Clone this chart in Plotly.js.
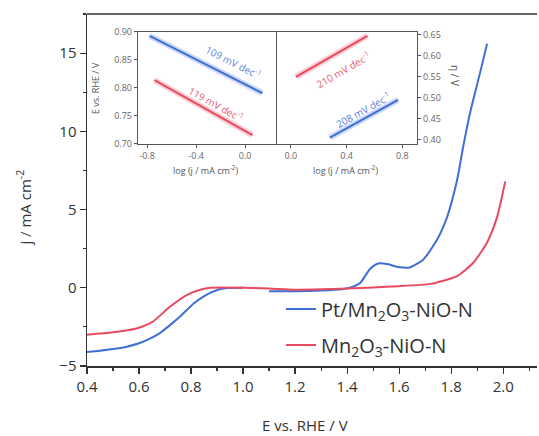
<!DOCTYPE html>
<html>
<head>
<meta charset="utf-8">
<script src="https://cdn.plot.ly/plotly-3.0.1.min.js"></script>
<style>html,body{margin:0;padding:0;background:#fff;}#chart{width:539px;height:436px;}</style>
</head>
<body>
<div id="chart"></div>
<script>
// ---- Main LSV data ----
const ptE = [0.40,0.45,0.50,0.55,0.60,0.64,0.68,0.72,0.76,0.785,0.81,0.846,0.88,0.91,0.94,1.00,null,1.10,1.20,1.30,1.38,1.42,1.45,1.488,1.519,1.558,1.59,1.64,1.692,1.746,1.785,1.823,1.846,1.873,1.912,1.938];
const ptJ = [-4.10,-4.02,-3.92,-3.78,-3.55,-3.27,-2.90,-2.37,-1.80,-1.40,-1.00,-0.58,-0.28,-0.10,-0.02,0.00,null,-0.22,-0.22,-0.18,-0.10,0.05,0.30,1.20,1.55,1.50,1.35,1.30,1.79,3.08,4.55,6.90,9.00,11.20,13.80,15.60];
const mnE = [0.40,0.50,0.59,0.65,0.72,0.785,0.835,0.875,1.00,1.10,1.20,1.30,1.40,1.50,1.60,1.72,1.77,1.823,1.885,1.938,1.977,2.008];
const mnJ = [-3.00,-2.85,-2.60,-2.20,-1.20,-0.45,-0.13,0.00,0.00,-0.05,-0.12,-0.10,-0.04,0.02,0.10,0.25,0.45,0.75,1.60,2.90,4.55,6.80];

// ---- Inset Tafel data (left: E vs log j, right: eta vs log j) ----
const tafLeftPtX = [-0.78, 0.14];
const tafLeftPtY = [0.893, 0.791];
const tafLeftMnX = [-0.74, 0.06];
const tafLeftMnY = [0.814, 0.716];
const tafRightMnX = [0.036, 0.55];
const tafRightMnY = [0.550, 0.648];
const tafRightPtX = [0.28, 0.77];
const tafRightPtY = [0.405, 0.495];

const xTicks = [0.4,0.6,0.8,1.0,1.2,1.4,1.6,1.8,2.0];
const yTicks = [-5,0,5,10,15];
const inLeftXTicks = [-0.8,-0.4,0.0];
const inLeftYTicks = [0.70,0.75,0.80,0.85,0.90];
const inRightXTicks = [0.0,0.4,0.8];
const inRightYTicks = [0.40,0.45,0.50,0.55,0.60,0.65];

const BLUE = '#3d6fd4', RED = '#e84a5f';
const BLUE_L = 'rgba(90,130,230,0.30)', RED_L = 'rgba(240,100,120,0.30)';
const FONT = 'Open Sans, sans-serif';
const TXT = '#333';

const traces = [
  {x: ptE, y: ptJ, mode:'lines', name:'Pt/Mn<sub>2</sub>O<sub>3</sub>-NiO-N', line:{color:BLUE, width:2, shape:'spline', smoothing:0.6}, connectgaps:false, legendgroup:'a'},
  {x: mnE, y: mnJ, mode:'lines', name:'Mn<sub>2</sub>O<sub>3</sub>-NiO-N', line:{color:RED, width:2, shape:'spline', smoothing:0.6}, legendgroup:'b'},
  // inset halos
  {x: tafLeftPtX, y: tafLeftPtY, xaxis:'x2', yaxis:'y2', mode:'lines', line:{color:BLUE_L, width:6}, showlegend:false},
  {x: tafLeftMnX, y: tafLeftMnY, xaxis:'x2', yaxis:'y2', mode:'lines', line:{color:RED_L, width:6}, showlegend:false},
  {x: tafRightMnX, y: tafRightMnY, xaxis:'x3', yaxis:'y3', mode:'lines', line:{color:RED_L, width:6}, showlegend:false},
  {x: tafRightPtX, y: tafRightPtY, xaxis:'x3', yaxis:'y3', mode:'lines', line:{color:BLUE_L, width:6}, showlegend:false},
  // inset lines
  {x: tafLeftPtX, y: tafLeftPtY, xaxis:'x2', yaxis:'y2', mode:'lines', line:{color:BLUE, width:2}, showlegend:false},
  {x: tafLeftMnX, y: tafLeftMnY, xaxis:'x2', yaxis:'y2', mode:'lines', line:{color:RED, width:2}, showlegend:false},
  {x: tafRightMnX, y: tafRightMnY, xaxis:'x3', yaxis:'y3', mode:'lines', line:{color:RED, width:2}, showlegend:false},
  {x: tafRightPtX, y: tafRightPtY, xaxis:'x3', yaxis:'y3', mode:'lines', line:{color:BLUE, width:2}, showlegend:false}
];

const inAx = {showline:true, mirror:true, linecolor:'#555', linewidth:1.2, ticks:'outside', ticklen:3, tickcolor:'#555',
  tickfont:{family:FONT, size:9, color:'#666'}, showgrid:false, zeroline:false};

const layout = {
  width:539, height:436,
  margin:{l:87, r:2, t:14, b:70},
  paper_bgcolor:'#fff', plot_bgcolor:'#fff',
  font:{family:FONT, color:TXT},
  xaxis:{range:[0.4,2.13], tickvals:xTicks, ticktext:xTicks.map(v=>v.toFixed(1)), showline:true, linecolor:TXT, linewidth:1.5,
    ticks:'outside', ticklen:6, tickwidth:1.2, tickcolor:TXT, tickfont:{family:FONT, size:15, color:TXT},
    minor:{dtick:0.1, tick0:0.4, ticks:'outside', ticklen:3, tickcolor:TXT}, showgrid:false, zeroline:false},
  yaxis:{range:[-5,17.5], tickvals:yTicks, showline:true, linecolor:TXT, linewidth:1.5,
    ticks:'outside', ticklen:6, tickwidth:1.2, tickcolor:TXT, tickfont:{family:FONT, size:15, color:TXT},
    minor:{dtick:2.5, tick0:-5, ticks:'outside', ticklen:3, tickcolor:TXT}, showgrid:false, zeroline:false},
  xaxis2:Object.assign({}, inAx, {domain:[0.1133,0.4222], anchor:'y2', range:[-0.875,0.26], tickvals:inLeftXTicks, ticktext:inLeftXTicks.map(v=>v.toFixed(1))}),
  yaxis2:Object.assign({}, inAx, {domain:[0.6307,0.9489], anchor:'x2', range:[0.70,0.90], tickvals:inLeftYTicks, ticktext:inLeftYTicks.map(v=>v.toFixed(2))}),
  xaxis3:Object.assign({}, inAx, {domain:[0.4222,0.7333], anchor:'y3', range:[-0.1,0.906], tickvals:inRightXTicks, ticktext:inRightXTicks.map(v=>v.toFixed(1))}),
  yaxis3:Object.assign({}, inAx, {domain:[0.6307,0.9489], anchor:'x3', side:'right', range:[0.39,0.657], tickvals:inRightYTicks, ticktext:inRightYTicks.map(v=>v.toFixed(2))}),
  showlegend:true,
  legend:{x:0.431, y:0.217, xanchor:'left', yanchor:'top', bgcolor:'rgba(0,0,0,0)', font:{family:FONT, size:20, color:TXT}, tracegroupgap:7, traceorder:'grouped'},
  shapes:[
    {type:'line', xref:'paper', yref:'paper', x0:0, x1:1, y0:1, y1:1, line:{color:TXT, width:1.5}}
  ],
  annotations:[
    {text:'E vs. RHE / V', xref:'paper', yref:'paper', x:0.484, y:-0.168, xanchor:'center', yanchor:'middle', showarrow:false, font:{family:FONT, size:15, color:TXT}},
    {text:'j / mA cm<sup>-2</sup>', xref:'paper', yref:'paper', x:-0.14, y:0.45, xanchor:'center', yanchor:'middle', textangle:-90, showarrow:false, font:{family:FONT, size:15, color:TXT}},
    {text:'109 mV dec<sup>-1</sup>', xref:'x2', yref:'y2', x:-0.10, y:0.846, textangle:27, showarrow:false, font:{family:FONT, size:10, color:'#5a80e0'}},
    {text:'119 mV dec<sup>-1</sup>', xref:'x2', yref:'y2', x:-0.24, y:0.772, textangle:29, showarrow:false, font:{family:FONT, size:10, color:'#e65c6e'}},
    {text:'210 mV dec<sup>-1</sup>', xref:'x3', yref:'y3', x:0.374, y:0.567, textangle:-30, showarrow:false, font:{family:FONT, size:10, color:'#e65c6e'}},
    {text:'208 mV dec<sup>-1</sup>', xref:'x3', yref:'y3', x:0.518, y:0.471, textangle:-29, showarrow:false, font:{family:FONT, size:10, color:'#5a80e0'}},
    {text:'E vs. RHE / V', xref:'paper', yref:'paper', x:(95-87)/450, y:(366-88)/352, xanchor:'center', yanchor:'middle', textangle:-90, showarrow:false, font:{family:FONT, size:9, color:'#555'}},
    {text:'η / V', xref:'paper', yref:'paper', x:(455-87)/450, y:(366-75)/352, xanchor:'center', yanchor:'middle', textangle:90, showarrow:false, font:{family:FONT, size:10, color:'#555'}},
    {text:'log (j / mA cm<sup>-2</sup>)', xref:'paper', yref:'paper', x:(205-87)/450, y:(366-170)/352, xanchor:'center', yanchor:'middle', showarrow:false, font:{family:FONT, size:9, color:'#555'}},
    {text:'log (j / mA cm<sup>-2</sup>)', xref:'paper', yref:'paper', x:(345-87)/450, y:(366-170)/352, xanchor:'center', yanchor:'middle', showarrow:false, font:{family:FONT, size:9, color:'#555'}}
  ]
};

Plotly.newPlot('chart', traces, layout, {staticPlot:true, displayModeBar:false});
</script>
</body>
</html>
